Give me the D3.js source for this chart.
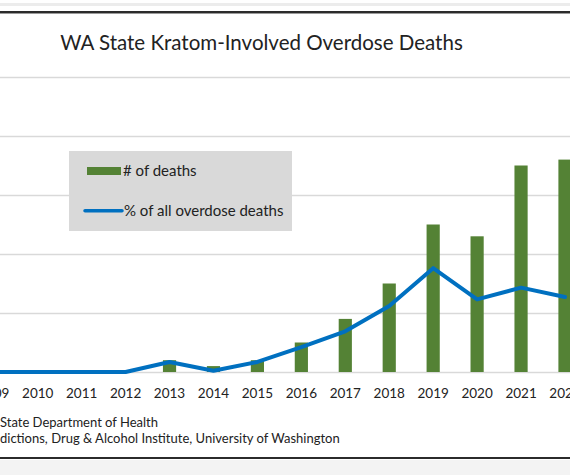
<!DOCTYPE html>
<html>
<head>
<meta charset="utf-8">
<script src="https://cdn.jsdelivr.net/npm/d3@7"></script>
<style>
  html, body { margin: 0; padding: 0; background: #fff; overflow: hidden; }
  svg { display: block; font-family: Lato, "Open Sans", sans-serif; }
</style>
</head>
<body>
<svg id="chart" width="570" height="475"></svg>
<script>
// ---- data ----
const years = ["2009","2010","2011","2012","2013","2014","2015","2016","2017","2018","2019","2020","2021","2022"];
const deaths = [0, 0, 0, 0, 2, 1, 2, 5, 9, 15, 25, 23, 35, 36];
const pctOfAll = [0, 0, 0, 0, 0.17, 0.02, 0.17, 0.42, 0.69, 1.12, 1.76, 1.23, 1.43, 1.27];
const deathTicks = [0, 10, 20, 30, 40, 50];
const titleText = "WA State Kratom-Involved Overdose Deaths";
const legendLabels = ["# of deaths", "% of all overdose deaths"];
const sourceLines = ["State Department of Health", "dictions, Drug & Alcohol Institute, University of Washington"];

const GREEN = "#548235", BLUE = "#0070C0", GRID = "#d9d9d9";
const svg = d3.select("#chart");
const W = 570, H = 475;

// page chrome (screenshot frame)
svg.append("rect").attr("x", 0).attr("y", 3).attr("width", W).attr("height", 3).attr("fill", "#ececec");
svg.append("rect").attr("x", 0).attr("y", 11).attr("width", W).attr("height", 2).attr("fill", "#2b2b2b");
svg.append("rect").attr("x", 0).attr("y", 13).attr("width", W).attr("height", 1).attr("fill", "#9a9a9a");
svg.append("rect").attr("x", 0).attr("y", 457).attr("width", W).attr("height", 2).attr("fill", "#2b2b2b");
svg.append("rect").attr("x", 0).attr("y", 460).attr("width", W).attr("height", H - 460).attr("fill", "#f3f3f3");

// scales
const x = d3.scaleBand().domain(years).range([-28.2, 586.96]).paddingInner(0.7).paddingOuter(0.35);
const y = d3.scaleLinear().domain([0, 50]).range([372, 77]);
const y2 = d3.scaleLinear().domain([0, 5]).range([372, 77]);

// gridlines
const grid = svg.append("g")
  .call(d3.axisLeft(y).tickValues(deathTicks).tickSize(-W).tickFormat(""));
grid.select(".domain").remove();
grid.selectAll(".tick line").attr("stroke", GRID).attr("stroke-width", 1.5);

// title
svg.append("text").attr("x", 261.5).attr("y", 50).attr("text-anchor", "middle")
  .attr("font-size", 20.5).attr("fill", "#222").text(titleText);

// bars
svg.append("g").selectAll("rect").data(years).join("rect")
  .attr("x", d => x(d)).attr("width", x.bandwidth())
  .attr("y", (d, i) => y(deaths[i])).attr("height", (d, i) => y(0) - y(deaths[i]))
  .attr("fill", GREEN);

// line
const line = d3.line().x((d, i) => x(years[i]) + x.bandwidth() / 2).y(d => y2(d));
svg.append("path").datum(pctOfAll).attr("d", line)
  .attr("fill", "none").attr("stroke", BLUE).attr("stroke-width", 4)
  .attr("stroke-linejoin", "round").attr("stroke-linecap", "round");

// x axis labels
const xa = svg.append("g").attr("transform", "translate(0,372)")
  .call(d3.axisBottom(x).tickSize(0).tickPadding(16));
xa.select(".domain").remove();
xa.selectAll("text").attr("font-size", 13.5).attr("font-family", "Lato, sans-serif").attr("fill", "#222");

// legend
const lg = svg.append("g");
lg.append("rect").attr("x", 69).attr("y", 151).attr("width", 223).attr("height", 80).attr("fill", "#d9d9d9");
lg.append("rect").attr("x", 87).attr("y", 167).attr("width", 34).attr("height", 8).attr("fill", GREEN);
lg.append("text").attr("x", 123).attr("y", 176).attr("font-size", 15).attr("fill", "#222").text(legendLabels[0]);
lg.append("line").attr("x1", 85).attr("x2", 122).attr("y1", 210.7).attr("y2", 210.7)
  .attr("stroke", BLUE).attr("stroke-width", 3.5).attr("stroke-linecap", "round");
lg.append("text").attr("x", 124).attr("y", 216).attr("font-size", 15).attr("fill", "#222").text(legendLabels[1]);

// source lines
svg.append("g").selectAll("text").data(sourceLines).join("text")
  .attr("x", 0).attr("y", (d, i) => 427 + i * 16).attr("font-size", 13).attr("fill", "#222").text(d => d);
</script>
</body>
</html>
